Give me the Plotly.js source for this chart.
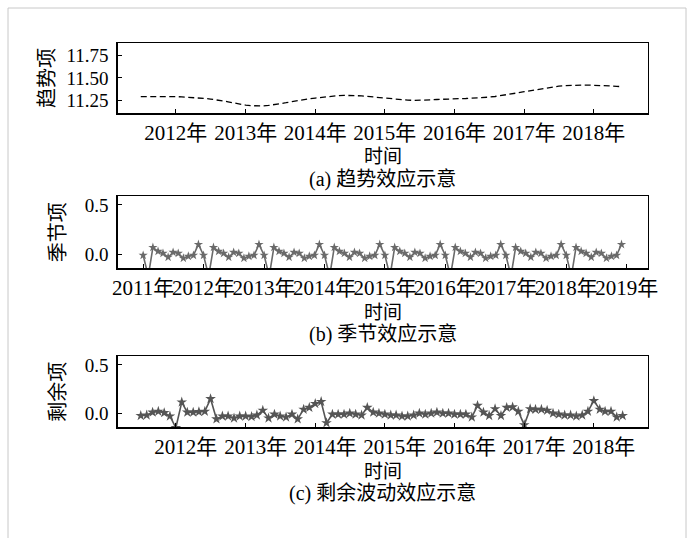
<!DOCTYPE html>
<html><head><meta charset="utf-8">
<script src="https://cdn.plot.ly/plotly-3.0.1.min.js"></script>
<style>body{margin:0;background:#fff}#c{width:695px;height:538px}</style>
</head><body><div id="c"></div>
<script>
// Trend (Jul 2011 - Jun 2018, monthly)
const trendValues = [
 11.294,11.295,11.296,11.296,11.296,11.295,
 11.294,11.292,11.289,11.285,11.280,11.274,11.268,11.260,11.250,11.238,11.225,11.212,
 11.202,11.195,11.192,11.193,11.198,11.206,11.216,11.228,11.240,11.252,11.262,11.271,
 11.279,11.287,11.294,11.300,11.305,11.308,11.309,11.307,11.303,11.297,11.290,11.283,
 11.276,11.270,11.264,11.259,11.256,11.254,11.254,11.256,11.259,11.263,11.267,11.270,
 11.272,11.273,11.274,11.276,11.279,11.283,11.289,11.296,11.305,11.315,11.326,11.337,
 11.349,11.360,11.372,11.383,11.393,11.402,11.409,11.414,11.418,11.420,11.421,11.421,
 11.420,11.418,11.415,11.411,11.407,11.403
];
// Seasonal (Jan 2011 - Dec 2018, monthly)
const seasonalValues = [
 -0.01,-0.22,0.07,0.03,0.01,-0.03,0.02,0.01,-0.04,-0.02,-0.01,0.10,
 -0.01,-0.22,0.07,0.03,0.01,-0.03,0.02,0.01,-0.04,-0.02,-0.01,0.10,
 -0.01,-0.22,0.07,0.03,0.01,-0.03,0.02,0.01,-0.04,-0.02,-0.01,0.10,
 -0.01,-0.22,0.07,0.03,0.01,-0.03,0.02,0.01,-0.04,-0.02,-0.01,0.10,
 -0.01,-0.22,0.07,0.03,0.01,-0.03,0.02,0.01,-0.04,-0.02,-0.01,0.10,
 -0.01,-0.22,0.07,0.03,0.01,-0.03,0.02,0.01,-0.04,-0.02,-0.01,0.10,
 -0.01,-0.22,0.07,0.03,0.01,-0.03,0.02,0.01,-0.04,-0.02,-0.01,0.10,
 -0.01,-0.22,0.07,0.03,0.01,-0.03,0.02,0.01,-0.04,-0.02,-0.01,0.10
];
// Residual (Jul 2011 - Jun 2018, monthly)
const residualValues = [
 -0.025,-0.02,0.01,0.02,0.005,-0.03,
 -0.15,0.115,0.01,0.01,0.015,0.02,0.15,-0.06,-0.03,-0.03,-0.05,-0.03,
 -0.03,-0.035,-0.02,0.03,-0.05,-0.01,-0.03,-0.04,-0.01,-0.06,0.04,0.06,
 0.10,0.12,-0.10,-0.01,-0.01,-0.01,0.0,-0.01,-0.02,0.06,0.01,0.0,
 -0.01,-0.02,-0.02,-0.03,-0.03,-0.02,0.0,-0.01,0.0,0.01,0.0,0.0,
 -0.01,-0.01,-0.01,-0.04,0.08,0.01,-0.025,0.045,-0.025,0.06,0.065,0.02,
 -0.12,0.045,0.04,0.04,0.03,0.0,-0.01,-0.02,-0.02,-0.03,-0.02,0.02,
 0.13,0.04,0.02,0.02,-0.04,-0.025
];
const yearTickText = "%Y年";
const yTitles = ["趋势项","季节项","剩余项"];
const xTitle = "时间";
const captions = ["(a) 趋势效应示意","(b) 季节效应示意","(c) 剩余波动效应示意"];

function months(y, m, n){
  const out=[];
  for(let i=0;i<n;i++){
    const yy = y + Math.floor((m-1+i)/12);
    const mm = ((m-1+i)%12)+1;
    out.push(yy+"-"+String(mm).padStart(2,"0")+"-01");
  }
  return out;
}
const trendDates = months(2011,7,trendValues.length);
const seasonalDates = months(2011,1,seasonalValues.length);
const residualDates = months(2011,7,residualValues.length);

const FONT = "Liberation Serif, 'Noto Sans CJK SC', serif";
const W=695,H=538;
const X0=117.5/W, X1=648/W;
const panels = [[42.7,113.3],[196,268.3],[356,427.3]];
const dom = p => [1-p[1]/H, 1-p[0]/H];

const traces = [
 {x:trendDates,y:trendValues,type:"scatter",mode:"lines",xaxis:"x",yaxis:"y",
  line:{color:"#000",width:1.3,dash:"6px,3.5px"}},
 {x:seasonalDates,y:seasonalValues,type:"scatter",mode:"lines+markers",xaxis:"x2",yaxis:"y2",
  line:{color:"#6a6a6a",width:1.6},marker:{symbol:"star",size:7,color:"#6a6a6a"},cliponaxis:true},
 {x:residualDates,y:residualValues,type:"scatter",mode:"lines+markers",xaxis:"x3",yaxis:"y3",
  line:{color:"#555",width:1.6},marker:{symbol:"star",size:8,color:"#555"},cliponaxis:true}
];

const xbase = {type:"date",tickmode:"linear",tick0:"2011-01-01",dtick:"M12",tickformat:yearTickText,tickangle:0,
  ticks:"inside",ticklen:4,tickcolor:"#000",showline:true,mirror:true,linecolor:"#000",linewidth:1.2,
  showgrid:false,zeroline:false,tickfont:{family:FONT,size:21,color:"#000"},ticklabelstandoff:0,domain:[X0,X1]};
const ybase = {ticks:"inside",ticklen:4,tickcolor:"#000",showline:true,mirror:true,linecolor:"#000",linewidth:1.2,
  showgrid:false,zeroline:false,tickfont:{family:FONT,size:19,color:"#000"},ticklabelstandoff:4};

const layout = {
 width:W,height:H,margin:{l:0,r:0,t:0,b:0},paper_bgcolor:"#fff",plot_bgcolor:"#fff",showlegend:false,
 xaxis:Object.assign({},xbase,{anchor:"y",range:["2011-03-01","2018-10-12"]}),
 yaxis:Object.assign({},ybase,{anchor:"x",domain:dom(panels[0]),range:[11.112,11.885],tickmode:"linear",tick0:0,dtick:0.25,tickformat:".2f"}),
 xaxis2:Object.assign({},xbase,{anchor:"y2",range:["2010-07-30","2019-05-10"]}),
 yaxis2:Object.assign({},ybase,{anchor:"x2",domain:dom(panels[1]),range:[-0.142,0.591],tickmode:"linear",tick0:0,dtick:0.5,tickformat:".1f"}),
 xaxis3:Object.assign({},xbase,{anchor:"y3",range:["2011-03-01","2018-10-12"],ticklabelshift:10}),
 yaxis3:Object.assign({},ybase,{anchor:"x3",domain:dom(panels[2]),range:[-0.145,0.593],tickmode:"linear",tick0:0,dtick:0.5,tickformat:".1f"}),
 annotations:[],
 shapes:[{type:"path",xref:"paper",yref:"paper",path:"M "+(8/W)+" -0.1 L "+(8/W)+" "+(1-8/H)+" L "+(686/W)+" "+(1-8/H)+" L "+(686/W)+" -0.1",
   line:{color:"#c8c8c8",width:1}}]
};
const cx = (117.5+648)/2/W;
const ylabX=[47,58,58], xtY=[156,312,471], capY=[179,334,493];
for(let i=0;i<3;i++){
  const mid = (panels[i][0]+panels[i][1])/2;
  layout.annotations.push({text:yTitles[i],xref:"paper",yref:"paper",x:ylabX[i]/W,y:1-mid/H,showarrow:false,textangle:-90,
    font:{family:FONT,size:20,color:"#000"},xanchor:"center",yanchor:"middle"});
  layout.annotations.push({text:xTitle,xref:"paper",yref:"paper",x:cx,y:1-xtY[i]/H,showarrow:false,
    font:{family:FONT,size:19,color:"#000"},xanchor:"center",yanchor:"middle"});
  layout.annotations.push({text:captions[i],xref:"paper",yref:"paper",x:cx,y:1-capY[i]/H,showarrow:false,
    font:{family:FONT,size:20,color:"#000"},xanchor:"center",yanchor:"middle"});
}
Plotly.newPlot("c",traces,layout,{displayModeBar:false,staticPlot:true});
</script></body></html>
